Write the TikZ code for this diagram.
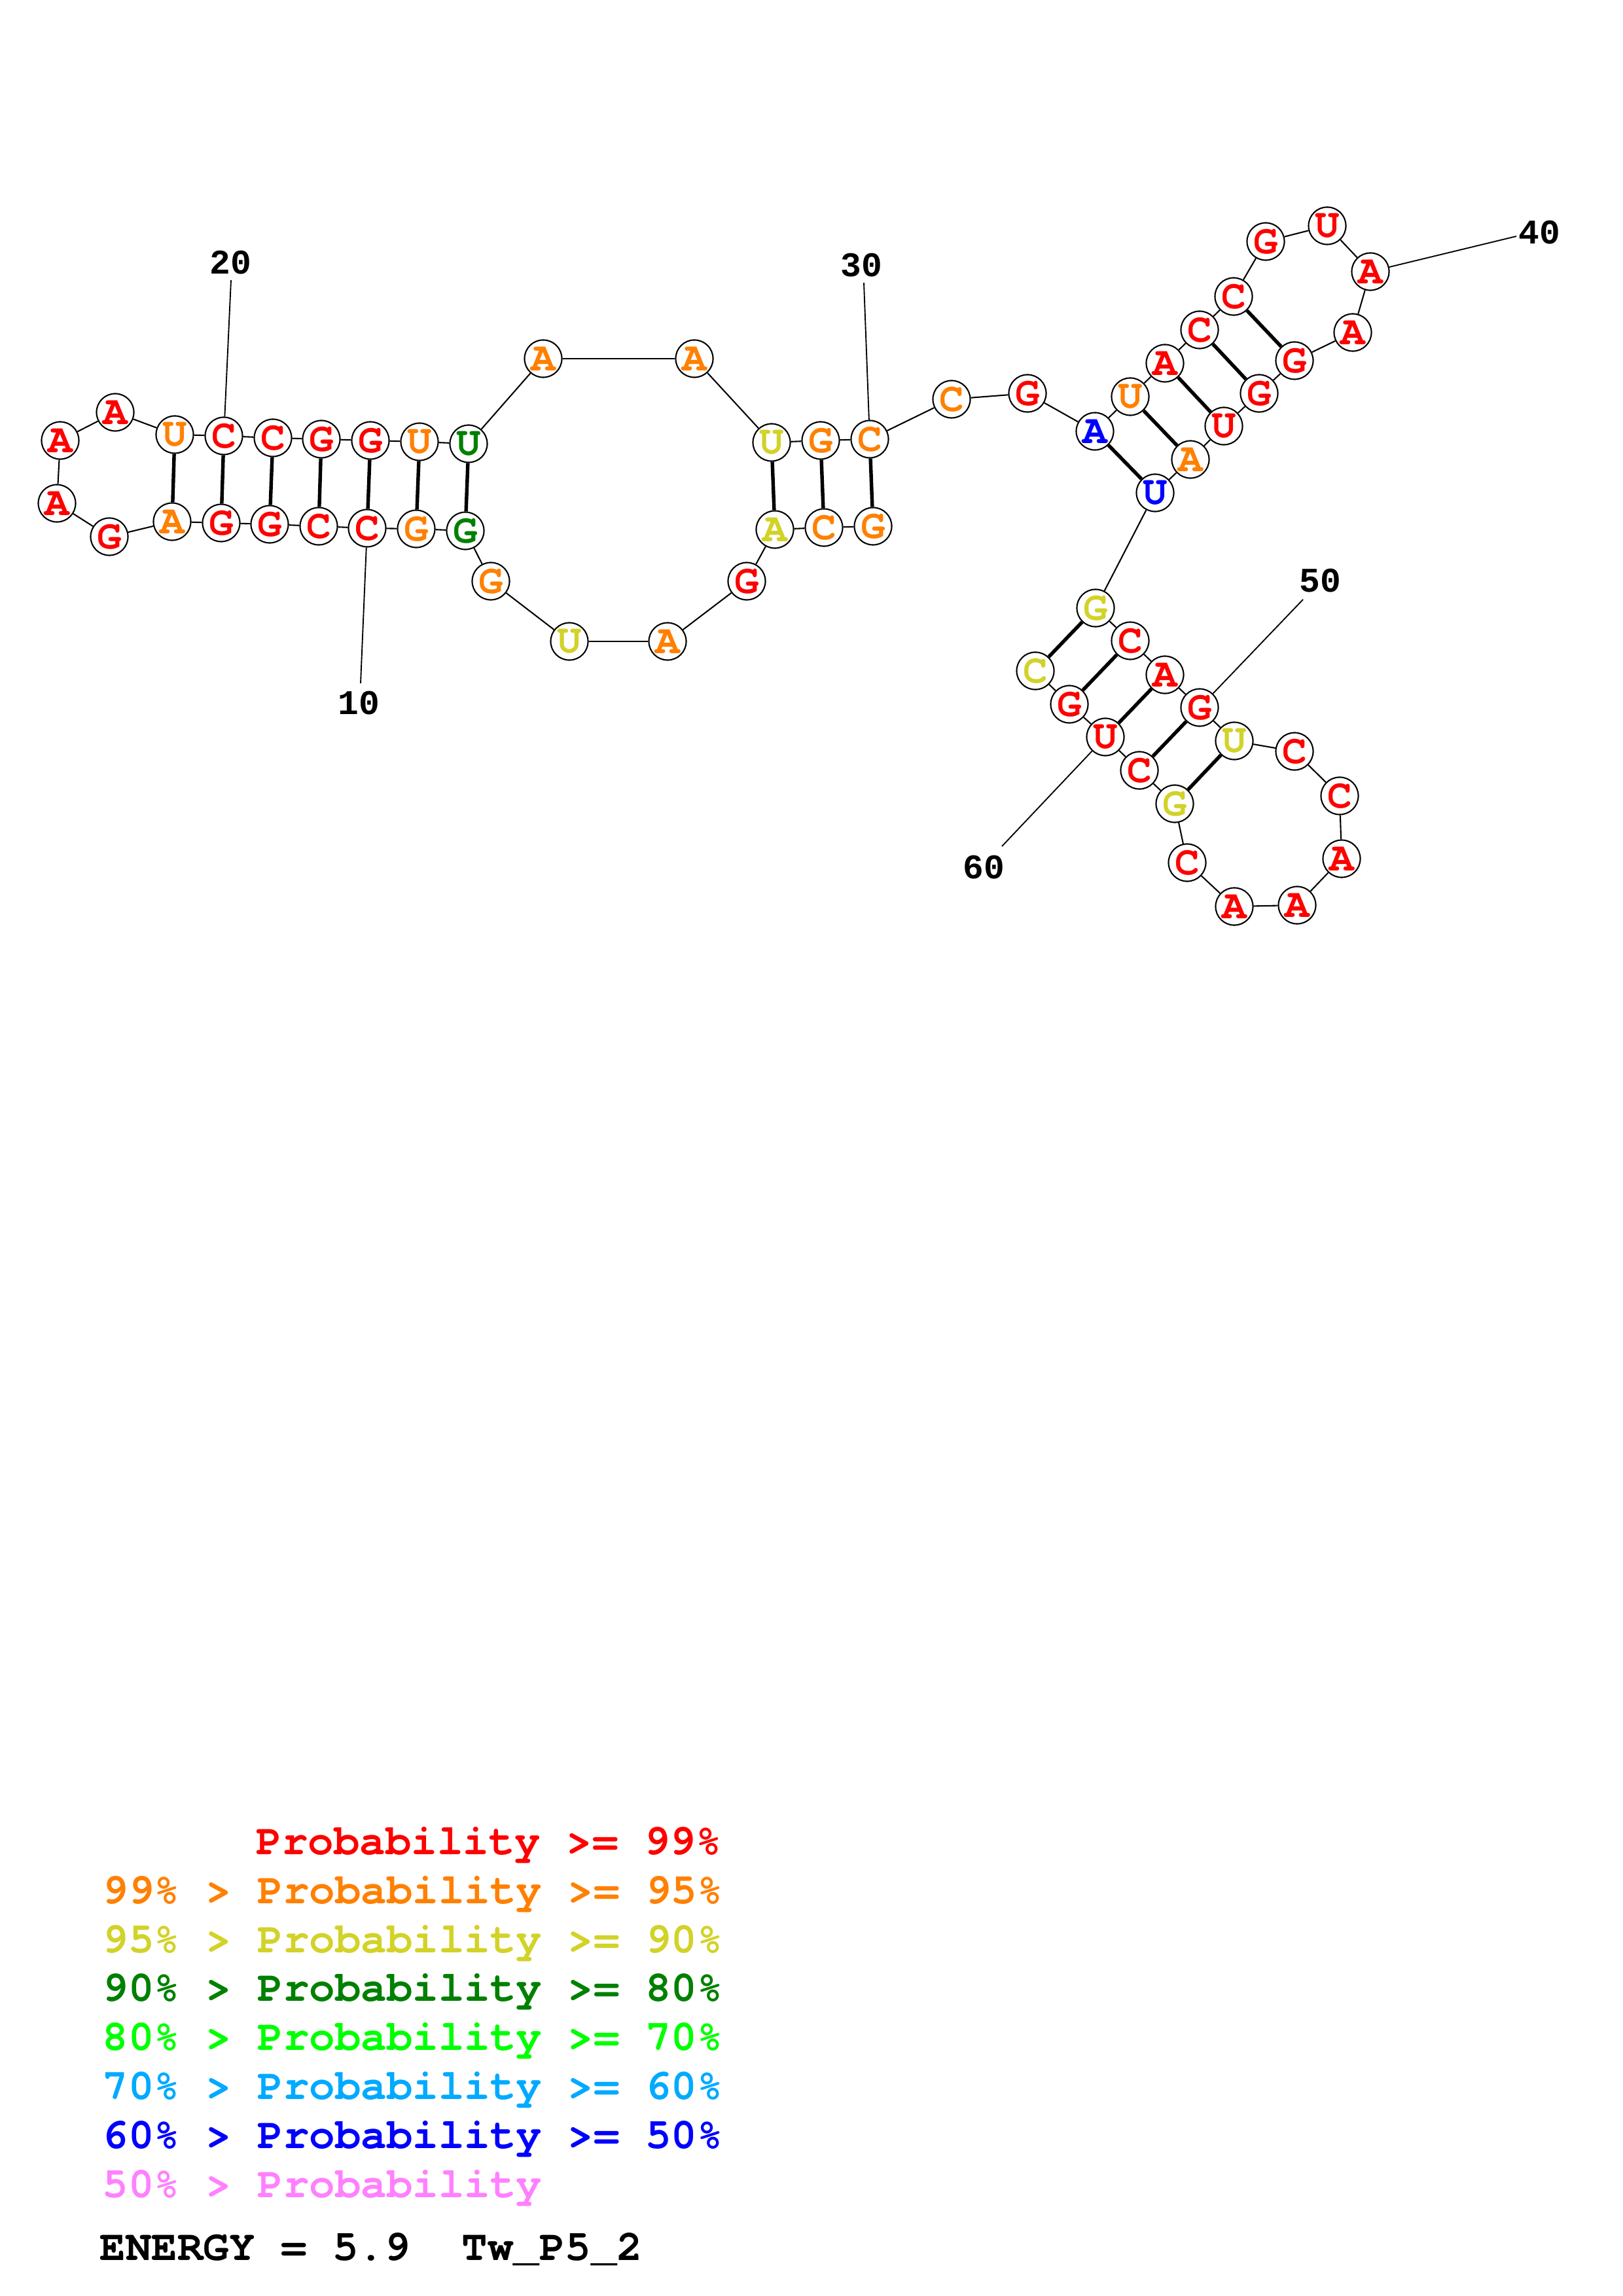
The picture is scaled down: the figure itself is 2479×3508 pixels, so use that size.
\documentclass[tikz,border=0pt]{standalone}
\usepackage{fontspec}
\setmonofont{Liberation Mono}
\newfontfamily\cursorbold{texgyrecursor-bold.otf}
\definecolor{pr}{RGB}{255,0,0}
\definecolor{po}{RGB}{255,128,0}
\definecolor{py}{RGB}{210,210,40}
\definecolor{pg}{RGB}{0,128,0}
\definecolor{pl}{RGB}{0,255,0}
\definecolor{pc}{RGB}{0,170,255}
\definecolor{pb}{RGB}{0,0,255}
\definecolor{pp}{RGB}{255,128,255}
\newcommand\ntfont{\fontsize{15}{15}\selectfont\cursorbold}
\newcommand\numfont{\fontsize{12.7}{12.7}\selectfont\ttfamily\bfseries}
\newcommand\legfont{\fontsize{15.8}{15.8}\selectfont\cursorbold}
\tikzset{
  nt/.style={circle, draw=black, line width=0.5pt, fill=white, minimum size=13.7pt, inner sep=0pt, font=\ntfont},
  bb/.style={line width=0.5pt},
  bpair/.style={line width=1.3pt},
  lbl/.style={font=\numfont, inner sep=0pt},
  lblline/.style={line width=0.45pt},
  leg/.style={anchor=base west, font=\legfont, inner sep=0pt},
}
\begin{document}
\begin{tikzpicture}[x=0.24pt, y=-0.24pt]
\useasboundingbox (0,0) rectangle (2479,3508);
\foreach \i/\x/\y/\b/\c in {
1/1334/804/G/po, 2/1259/806/C/po, 3/1184/809/A/py, 4/1141/888/G/pr,
5/1020/980/A/po, 6/870/980/U/py, 7/750/888/G/po, 8/711/811/G/pg,
9/636/808/G/po, 10/561/807/C/pr, 11/487/804/C/pr, 12/412/801/G/pr,
13/338/799/G/pr, 14/263/797/A/po, 15/167/820/G/pr, 16/87/769/A/pr,
17/92/673/A/pr, 18/176/630/A/pr, 19/267/664/U/po, 20/342/666/C/pr,
21/417/669/C/pr, 22/491/671/G/pr, 23/566/673/G/pr, 24/641/675/U/po,
25/716/678/U/pg, 26/830/548/A/po, 27/1061/548/A/po, 28/1179/676/U/py,
29/1254/673/G/po, 30/1329/671/C/po, 31/1454/610/C/po, 32/1570/601/G/pr,
33/1673/659/A/pb, 34/1727/606/U/po, 35/1780/555/A/pr, 36/1833/504/C/pr,
37/1885/453/C/pr, 38/1934/369/G/pr, 39/2028/345/U/pr, 40/2094/415/A/pr,
41/2067/508/A/pr, 42/1978/551/G/pr, 43/1924/601/G/pr, 44/1870/651/U/pr,
45/1819/702/A/po, 46/1765/753/U/pb, 47/1674/929/G/py, 48/1727/979/C/pr,
49/1780/1031/A/pr, 50/1833/1081/G/pr, 51/1886/1132/U/py, 52/1978/1148/C/pr,
53/2047/1216/C/pr, 54/2050/1312/A/pr, 55/1982/1383/A/pr, 56/1886/1385/A/pr,
57/1814/1318/C/pr, 58/1795/1228/G/py, 59/1741/1177/C/pr, 60/1689/1126/U/pr,
61/1634/1076/G/pr, 62/1582/1025/C/py}
  \node[nt, text=\c] (n\i) at (\x,\y) {\b};
% backbone
\foreach \i [evaluate=\i as \j using int(\i+1)] in {1,...,61}
  \draw[bb] (n\i) -- (n\j);
% base pairs
\foreach \a/\b in {19/14,20/13,21/12,22/11,23/10,24/9,25/8,28/3,29/2,30/1,
  33/46,34/45,35/44,36/43,37/42,47/62,48/61,49/60,50/59,51/58}
  \draw[bpair] (n\a) -- (n\b);
% number labels
\coordinate (e10) at (551,1044);
\coordinate (e20) at (353,428);
\coordinate (e30) at (1320,432);
\coordinate (e40) at (2317,361);
\coordinate (e50) at (1991,916);
\coordinate (e60) at (1531,1293);
\node[lbl] (t10) at (548,1074) {10};
\node[lbl] (t20) at (352,401) {20};
\node[lbl] (t30) at (1316,405) {30};
\node[lbl] (t40) at (2352,355) {40};
\node[lbl] (t50) at (2017,887) {50};
\node[lbl] (t60) at (1503,1325) {60};
\foreach \k in {10,20,30,40,50,60}
  \draw[lblline] (n\k) -- (e\k);
% legend
\node[leg, text=pr] (l1) at (391,2833) {Probability >= 99\%};
\node[leg, text=po] (l2) at (156,2908) {99\% > Probability >= 95\%};
\node[leg, text=py] (l3) at (156,2983) {95\% > Probability >= 90\%};
\node[leg, text=pg] (l4) at (156,3057) {90\% > Probability >= 80\%};
\node[leg, text=pl] (l5) at (156,3132) {80\% > Probability >= 70\%};
\node[leg, text=pc] (l6) at (156,3207) {70\% > Probability >= 60\%};
\node[leg, text=pb] (l7) at (156,3282) {60\% > Probability >= 50\%};
\node[leg, text=pp] (l8) at (156,3357) {50\% > Probability};
\node[leg, text=black] (en) at (152,3453) {ENERGY = 5.9\ \ Tw\_P5\_2};
\end{tikzpicture}
\end{document}
